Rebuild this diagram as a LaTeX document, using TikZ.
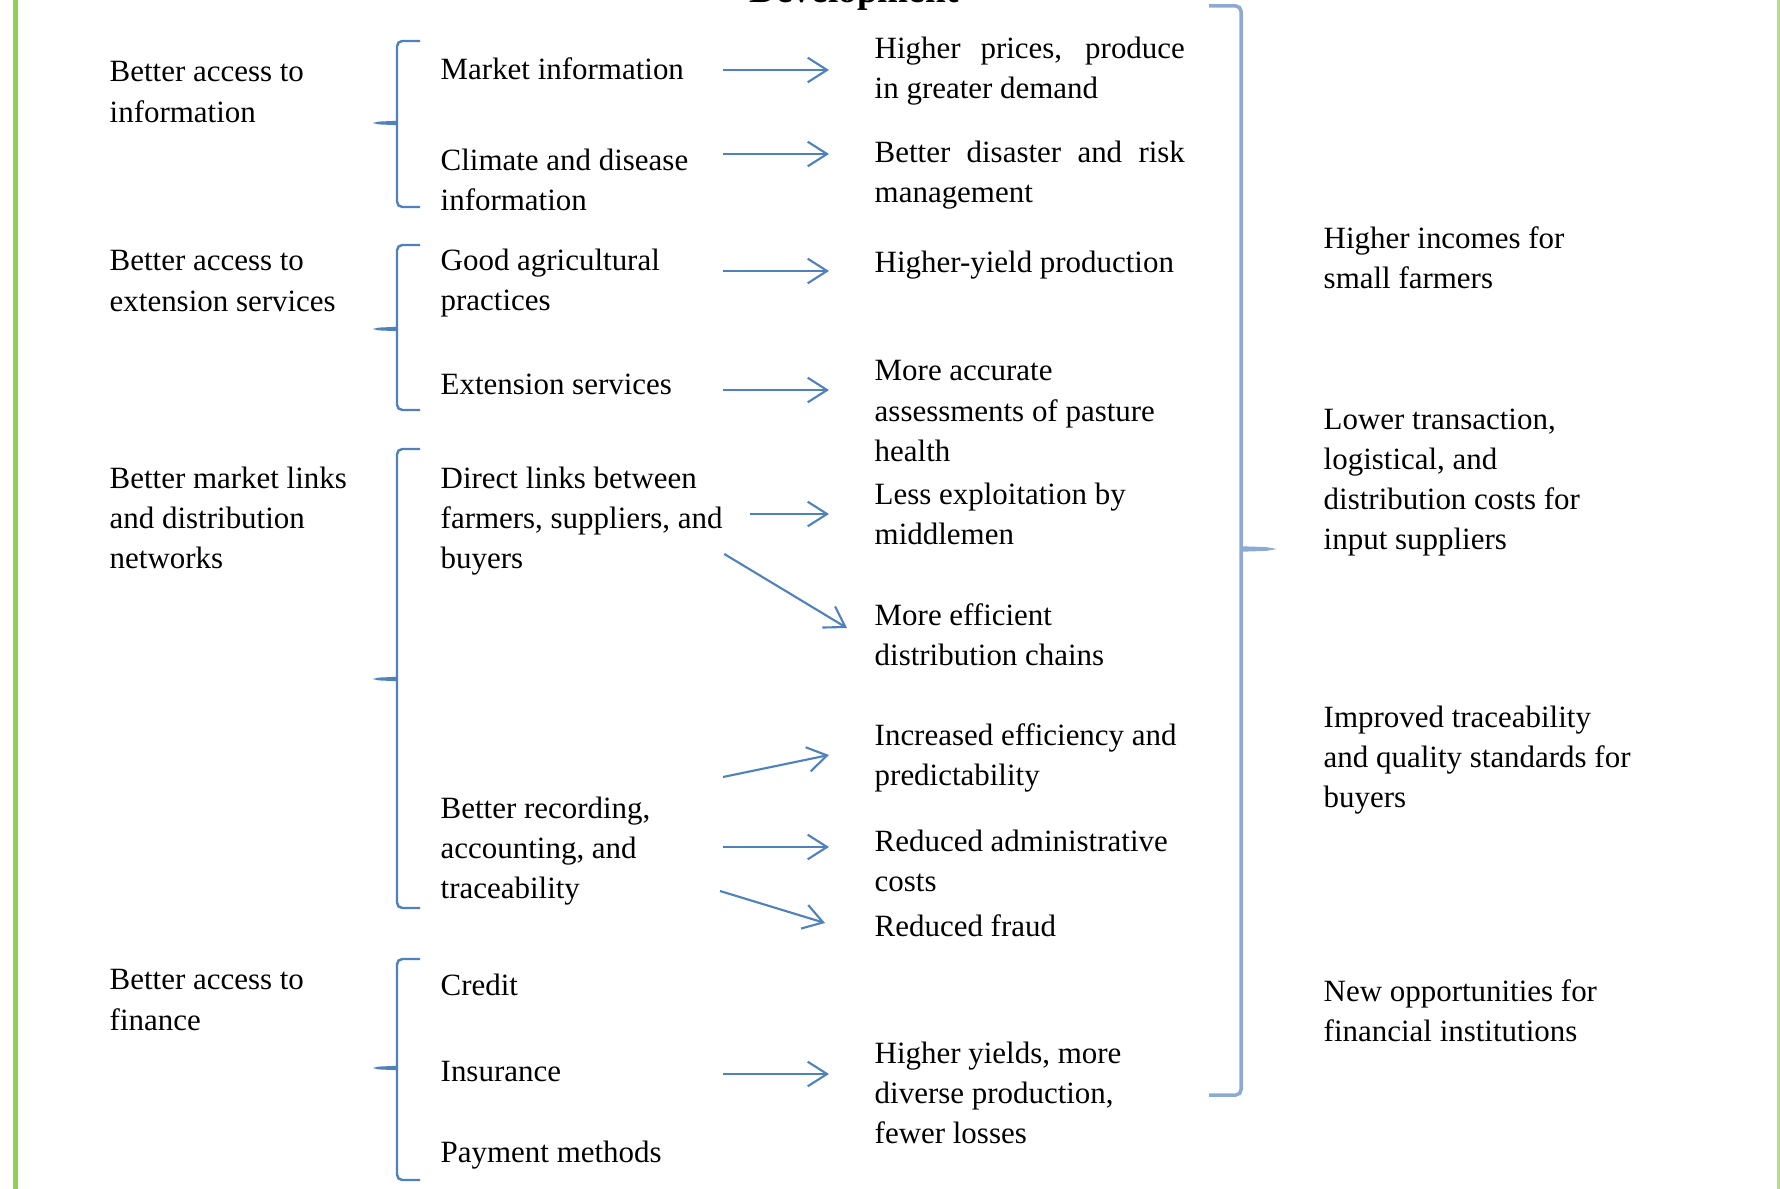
\documentclass[tikz,border=0pt]{standalone}
\usepackage{fontspec}
\setmainfont{Liberation Serif}
\usetikzlibrary{arrows.meta, positioning, calc}
\definecolor{linkblue}{RGB}{79,129,189}
\definecolor{bracegrey}{RGB}{140,170,210}
\definecolor{framegreen}{RGB}{146,208,80}

\begin{document}
\begin{tikzpicture}[x=0.01cm, y=-0.01cm,
    item/.style={anchor=north west, inner sep=0pt, align=left, font=\fontsize{8.8}{11.4}\selectfont, execute at begin node=\strut},
    title/.style={anchor=base, inner sep=0pt, font=\fontsize{10.6}{12}\selectfont\bfseries},
    brace/.style={draw=linkblue, line width=0.7pt, rounded corners=1.5pt},
    arrow/.style={-{Straight Barb[length=5.5pt, width=7pt]}, draw=linkblue, line width=0.6pt}
]

    % Page frame - same proportions as the scanned figure
    \useasboundingbox (0,0) rectangle (1780,1189);
    \clip (0,0) rectangle (1780,1189);
    \draw[framegreen, line width=1.4pt] (15.5,0) -- (15.5,1189);
    \draw[framegreen!70, line width=0.6pt] (1778.5,0) -- (1778.5,1189);

    % Heading (cut off at the top of the page)
    \node[title] (dev) at (854,3) {Development};

    % --- Column 1: what changes ---
    \node[item] (accInfo) at (109,61) {Better access to\\information};
    \node[item] (accExt) at (109,250) {Better access to\\extension services};
    \node[item] (mktLinks) at (109,466) {Better market links\\and distribution\\networks};
    \node[item] (accFin) at (109,969) {Better access to\\finance};

    % --- Column 2: services ---
    \node[item] (mktInfo) at (440,51) {Market information};
    \node[item] (climate) at (440,148) {Climate and disease\\information};
    \node[item] (gap) at (440,248) {Good agricultural\\practices};
    \node[item] (extServ) at (440,366) {Extension services};
    \node[item] (direct) at (440,466) {Direct links between\\farmers, suppliers, and\\buyers};
    \node[item] (recording) at (440,796) {Better recording,\\accounting, and\\traceability};
    \node[item] (credit) at (440,967) {Credit};
    \node[item] (insurance) at (440,1053) {Insurance};
    \node[item] (payment) at (440,1134) {Payment methods};

    % --- Column 3: effects ---
    \node[item] (prices) at (874,36) {\makebox[3.1cm][s]{Higher prices, produce}\\in greater demand};
    \node[item] (disaster) at (874,140) {\makebox[3.1cm][s]{Better disaster and risk}\\management};
    \node[item] (yield) at (874,244) {Higher-yield production};
    \node[item] (pasture) at (874,360) {More accurate\\assessments of pasture\\health};
    \node[item] (exploit) at (874,482) {Less exploitation by\\middlemen};
    \node[item] (efficient) at (874,603) {More efficient\\distribution chains};
    \node[item] (predict) at (874,723) {Increased efficiency and\\predictability};
    \node[item] (admin) at (874,829) {Reduced administrative\\costs};
    \node[item] (fraud) at (874,908) {Reduced fraud};
    \node[item] (yields) at (874,1041) {Higher yields, more\\diverse production,\\fewer losses};

    % --- Column 4: outcomes ---
    \node[item] (incomes) at (1323,226) {Higher incomes for\\small farmers};
    \node[item] (costs) at (1323,408) {Lower transaction,\\logistical, and\\distribution costs for\\input suppliers};
    \node[item] (quality) at (1323,705) {Improved traceability\\and quality standards for\\buyers};
    \node[item] (finInst) at (1323,979) {New opportunities for\\financial institutions};

    % --- Left braces ---
    \draw[brace] (420,41) -- (397,41) -- (397,117) .. controls (397,122) .. (375,123)
        .. controls (397,124) .. (397,129) -- (397,207) -- (420,207);
    \draw[brace] (420,245) -- (397,245) -- (397,323) .. controls (397,328) .. (375,329)
        .. controls (397,330) .. (397,335) -- (397,410) -- (420,410);
    \draw[brace] (420,449) -- (397,449) -- (397,673) .. controls (397,678) .. (375,679)
        .. controls (397,680) .. (397,685) -- (397,908) -- (420,908);
    \draw[brace] (420,959) -- (397,959) -- (397,1062) .. controls (397,1067) .. (375,1068)
        .. controls (397,1069) .. (397,1074) -- (397,1180) -- (420,1180);

    % --- Right brace ---
    \draw[brace, draw=bracegrey, line width=1pt] (1209,6) -- (1241,6) -- (1241,543)
        .. controls (1241,548) .. (1270,549) .. controls (1241,550) .. (1241,555)
        -- (1241,1095) -- (1209,1095);

    % --- Arrows between columns 2 and 3 ---
    \coordinate (ax) at (723,0);
    \coordinate (bx) at (829,0);

    \draw[arrow] ($(mktInfo.north -| ax)+(0,19)$) -- ($(prices.north -| bx)+(0,34)$);
    \draw[arrow] ($(climate.north -| ax)+(0,6)$) -- ($(disaster.north -| bx)+(0,14)$);
    \draw[arrow] ($(gap.north -| ax)+(0,23)$) -- ($(yield.north -| bx)+(0,27)$);
    \draw[arrow] ($(extServ.north -| ax)+(0,24)$) -- ($(pasture.north -| bx)+(0,30)$);
    \draw[arrow] ($(direct.north east)+(27,48)$) -- ($(exploit.north -| bx)+(0,32)$);
    \draw[arrow] ($(direct.north east)+(1,88)$) -- ($(efficient.north west)+(-27,25)$);
    \draw[arrow] ($(recording.north -| ax)+(0,-19)$) -- ($(predict.north -| bx)+(0,32)$);
    \draw[arrow] ($(recording.north -| ax)+(0,51)$) -- ($(admin.north -| bx)+(0,18)$);
    \draw[arrow] ($(recording.north -| ax)+(-3,95)$) -- ($(fraud.north -| bx)+(-4,15)$);
    \draw[arrow] ($(insurance.north -| ax)+(0,21)$) -- ($(yields.north -| bx)+(0,33)$);

\end{tikzpicture}
\end{document}
